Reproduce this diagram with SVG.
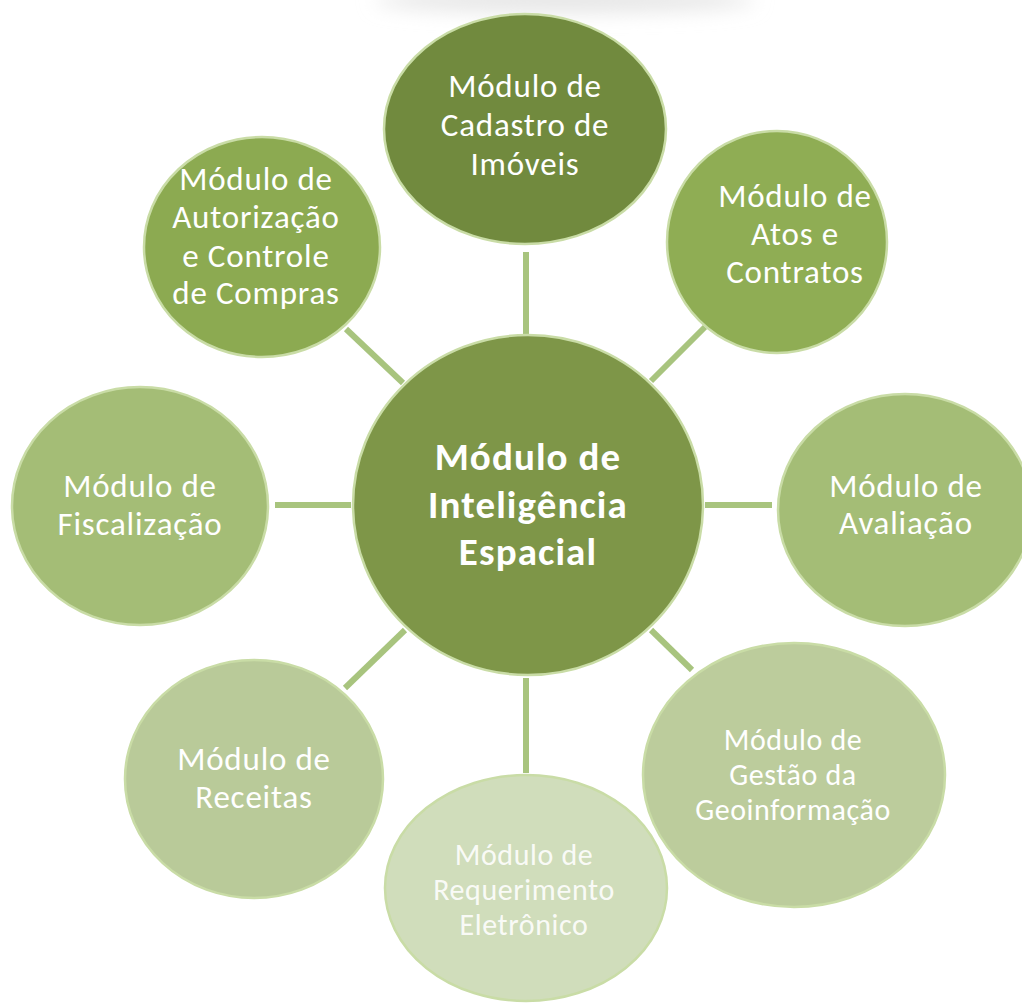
<svg xmlns="http://www.w3.org/2000/svg" width="1022" height="1003" viewBox="0 0 1022 1003">
<defs>
<filter id="soft" x="-20%" y="-150%" width="140%" height="400%"><feGaussianBlur stdDeviation="10"/></filter>
<style>
.c{stroke:#c9dca6;stroke-width:2.5}
.t{font-family:Carlito,Lato,"Open Sans",sans-serif;fill:#ffffff;text-anchor:middle;font-size:33px;letter-spacing:0.8px}
.s{font-size:30px;letter-spacing:0.6px}
.b{font-weight:bold;font-size:39px;letter-spacing:1.1px}
.ln{stroke:#a8c47e;stroke-width:6;fill:none}
</style>
</defs>
<rect width="1022" height="1003" fill="#ffffff"/>
<ellipse cx="565" cy="0" rx="190" ry="12" fill="#e4e4e4" filter="url(#soft)"/>
<g id="connectors">
<line class="ln" x1="526" y1="252" x2="526" y2="334"/>
<line class="ln" x1="346" y1="329" x2="403" y2="383"/>
<line class="ln" x1="705" y1="327" x2="651" y2="381"/>
<line class="ln" x1="275" y1="505" x2="351" y2="505"/>
<line class="ln" x1="705" y1="505" x2="772" y2="505"/>
<line class="ln" x1="405" y1="630" x2="345" y2="688"/>
<line class="ln" x1="651" y1="630" x2="692" y2="670"/>
<line class="ln" x1="526" y1="678" x2="526" y2="773"/>
</g>
<g id="node-cadastro">
<ellipse cx="525" cy="129" rx="141" ry="115" fill="#718a3e" class="c"/>
<text class="t" x="525" y="97">Módulo de</text>
<text class="t" x="525" y="136">Cadastro de</text>
<text class="t" x="525" y="175">Imóveis</text>
</g>
<g id="node-autorizacao">
<ellipse cx="262" cy="247" rx="118" ry="110" fill="#8caa51" class="c"/>
<text class="t" x="256" y="190">Módulo de</text>
<text class="t" x="256" y="228">Autorização</text>
<text class="t" x="256" y="267">e Controle</text>
<text class="t" x="256" y="304">de Compras</text>
</g>
<g id="node-atos">
<ellipse cx="777" cy="242" rx="110" ry="111" fill="#8fad54" class="c"/>
<text class="t" x="795" y="207">Módulo de</text>
<text class="t" x="795" y="245">Atos e</text>
<text class="t" x="795" y="283">Contratos</text>
</g>
<g id="node-fiscalizacao">
<ellipse cx="140" cy="506" rx="128" ry="119" fill="#a4bd76" class="c"/>
<text class="t" x="140" y="497">Módulo de</text>
<text class="t" x="140" y="535">Fiscalização</text>
</g>
<g id="node-avaliacao">
<ellipse cx="905" cy="510" rx="127" ry="116" fill="#a4bd76" class="c"/>
<text class="t" x="906" y="497">Módulo de</text>
<text class="t" x="906" y="534">Avaliação</text>
</g>
<g id="node-receitas">
<ellipse cx="254" cy="779" rx="129" ry="119" fill="#b9ca99" class="c"/>
<text class="t" x="254" y="770">Módulo de</text>
<text class="t" x="254" y="808">Receitas</text>
</g>
<g id="node-geoinformacao">
<ellipse cx="794" cy="775" rx="151" ry="132" fill="#bccc9c" class="c"/>
<text class="t s" x="793" y="750">Módulo de</text>
<text class="t s" x="793" y="785">Gestão da</text>
<text class="t s" x="793" y="820">Geoinformação</text>
</g>
<g id="node-requerimento">
<ellipse cx="526" cy="888" rx="141" ry="113" fill="#d0ddbb" class="c"/>
<text class="t s" x="524" y="865" fill-opacity="0.9">Módulo de</text>
<text class="t s" x="524" y="900" fill-opacity="0.9">Requerimento</text>
<text class="t s" x="524" y="935" fill-opacity="0.9">Eletrônico</text>
</g>
<g id="node-inteligencia">
<ellipse cx="528" cy="505" rx="175" ry="170" fill="#7e9648" class="c"/>
<text class="t b" x="528" y="470">Módulo de</text>
<text class="t b" x="528" y="518">Inteligência</text>
<text class="t b" x="528" y="565">Espacial</text>
</g>
</svg>
